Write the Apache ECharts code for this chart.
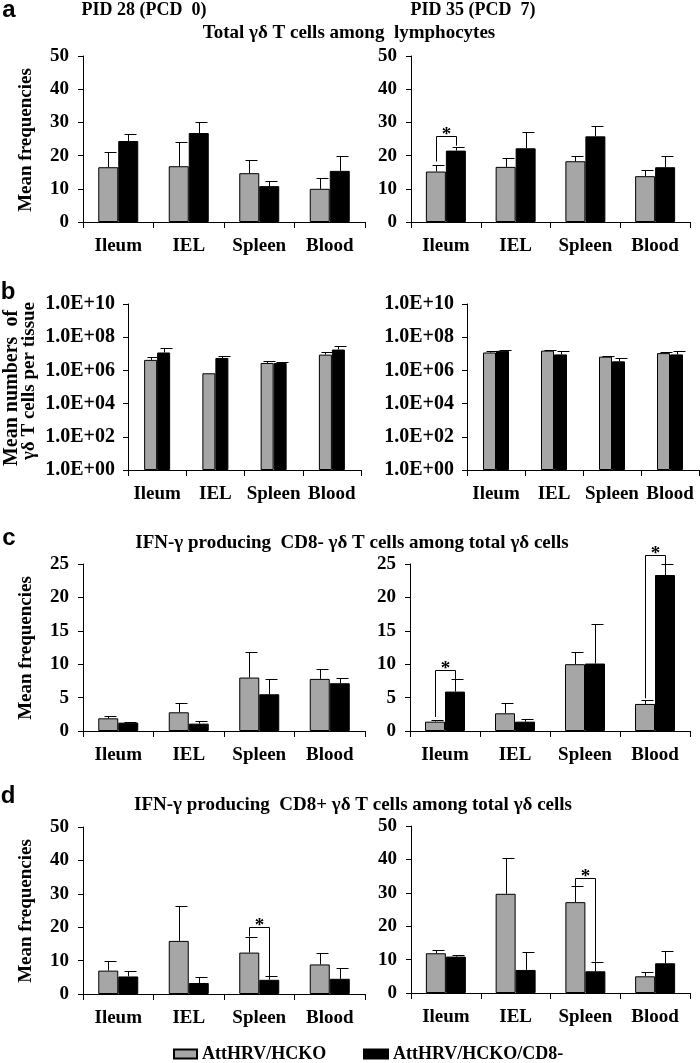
<!DOCTYPE html>
<html>
<head>
<meta charset="utf-8">
<script src="https://cdn.jsdelivr.net/npm/echarts@6/dist/echarts.min.js"></script>
<style>
html,body{margin:0;padding:0;background:#fff;}
#chart{width:700px;height:1063px;}
</style>
</head>
<body>
<div id="chart"></div>
<script>
// ---------- DATA ----------
const categories = ['Ileum', 'IEL', 'Spleen', 'Blood'];
const seriesNames = ['AttHRV/HCKO', 'AttHRV/HCKO/CD8-'];

// Panel a: Total γδ T cells among lymphocytes (mean, SD)
const aLeftGray = [16.5, 16.8, 14.7, 10.0];
const aLeftGraySd = [4.6, 7.2, 4.0, 3.2];
const aLeftBlack = [24.4, 26.8, 10.8, 15.4];
const aLeftBlackSd = [2.2, 3.2, 1.4, 4.6];
const aRightGray = [15.2, 16.6, 18.3, 13.8];
const aRightGraySd = [2.1, 2.7, 1.7, 2.0];
const aRightBlack = [21.5, 22.2, 25.8, 16.5];
const aRightBlackSd = [1.2, 5.0, 3.2, 3.5];

// Panel b: numbers of γδ T cells per tissue (log scale)
const bLeftGray = [4.3e6, 6.7e5, 2.8e6, 8.9e6];
const bLeftGraySd = [2.4e6, 0, 1.1e6, 3.1e6];
const bLeftBlack = [1.2e7, 5.6e6, 2.8e6, 1.8e7];
const bLeftBlackSd = [9e6, 2.1e6, 3e5, 1e7];
const bRightGray = [1.2e7, 1.55e7, 6.7e6, 1.1e7];
const bRightGraySd = [2e6, 2e6, 6e5, 1e6];
const bRightBlack = [1.5e7, 9.2e6, 3.5e6, 9.2e6];
const bRightBlackSd = [2e6, 5.8e6, 2.1e6, 5.8e6];

// Panel c: IFN-γ producing CD8- γδ T cells
const cLeftGray = [1.9, 2.8, 8.0, 7.8];
const cLeftGraySd = [0.4, 1.45, 3.9, 1.45];
const cLeftBlack = [1.25, 1.1, 5.5, 7.15];
const cLeftBlackSd = [0.15, 0.45, 2.25, 0.85];
const cRightGray = [1.4, 2.65, 10.0, 4.05];
const cRightGraySd = [0.2, 1.6, 1.9, 0.6];
const cRightBlack = [5.9, 1.4, 10.1, 23.35];
const cRightBlackSd = [1.9, 0.35, 5.9, 1.6];

// Panel d: IFN-γ producing CD8+ γδ T cells
const dLeftGray = [7.0, 15.9, 12.4, 8.85];
const dLeftGraySd = [2.9, 10.4, 4.6, 3.55];
const dLeftBlack = [5.25, 3.3, 4.25, 4.55];
const dLeftBlackSd = [1.5, 1.65, 1.0, 3.2];
const dRightGray = [11.9, 29.7, 27.2, 5.0];
const dRightGraySd = [1.0, 10.7, 4.7, 1.2];
const dRightBlack = [10.9, 6.9, 6.5, 8.9];
const dRightBlackSd = [0.6, 5.3, 2.9, 3.6];

// Significance brackets: [category index, gray end, black end, bracket top]
const aRightSig = [[0, 18.2, 23.0, 25.8]];
const cRightSig = [[0, 2.1, 7.8, 9.2], [3, 4.9, 25.0, 26.35]];
const dLeftSig = [[2, 17.2, 5.4, 20.2]];
const dRightSig = [[2, 31.9, 9.4, 34.5]];

// Axis ticks
const freq50Ticks = {min: 0, max: 50, interval: 10};
const freq25Ticks = {min: 0, max: 25, interval: 5};
const logTicks = {min: 1, max: 1e10, base: 100};

// ---------- LAYOUT ----------
const FONT = '"Liberation Serif", "Times New Roman", serif';
const panels = [
  {grid: {left: 83, top: 56, width: 282, height: 166}, ax: freq50Ticks, log: false, bw: 20,
   g: aLeftGray, gs: aLeftGraySd, k: aLeftBlack, ks: aLeftBlackSd, sig: []},
  {grid: {left: 411, top: 56, width: 279, height: 166}, ax: freq50Ticks, log: false, bw: 20,
   g: aRightGray, gs: aRightGraySd, k: aRightBlack, ks: aRightBlackSd, sig: aRightSig},
  {grid: {left: 128, top: 304, width: 233, height: 166}, ax: logTicks, log: true, bw: 13,
   g: bLeftGray, gs: bLeftGraySd, k: bLeftBlack, ks: bLeftBlackSd, sig: []},
  {grid: {left: 467, top: 304, width: 232, height: 166}, ax: logTicks, log: true, bw: 13,
   g: bRightGray, gs: bRightGraySd, k: bRightBlack, ks: bRightBlackSd, sig: []},
  {grid: {left: 83, top: 564, width: 282, height: 167}, ax: freq25Ticks, log: false, bw: 20,
   g: cLeftGray, gs: cLeftGraySd, k: cLeftBlack, ks: cLeftBlackSd, sig: []},
  {grid: {left: 410, top: 564, width: 280, height: 167}, ax: freq25Ticks, log: false, bw: 20,
   g: cRightGray, gs: cRightGraySd, k: cRightBlack, ks: cRightBlackSd, sig: cRightSig},
  {grid: {left: 83, top: 827, width: 282, height: 167}, ax: freq50Ticks, log: false, bw: 20,
   g: dLeftGray, gs: dLeftGraySd, k: dLeftBlack, ks: dLeftBlackSd, sig: dLeftSig},
  {grid: {left: 411, top: 826, width: 279, height: 167}, ax: freq50Ticks, log: false, bw: 20,
   g: dRightGray, gs: dRightGraySd, k: dRightBlack, ks: dRightBlackSd, sig: dRightSig}
];

const grids = [], xAxes = [], yAxes = [], series = [];
const lineStyle = {color: '#000', width: 1};

function errRender(bw) {
  return function (params, api) {
    const cat = api.value(0), s = api.value(1), v = api.value(2), top = api.value(3);
    if (!(top > v)) return null;
    const c = api.coord([cat, v]);
    const x = Math.round(c[0] + (s === 0 ? -bw / 2 : bw / 2)) + 0.5;
    const y2 = Math.round(api.coord([cat, top])[1]) + 0.5;
    return {
      type: 'group',
      children: [
        {type: 'line', shape: {x1: x, y1: c[1], x2: x, y2: y2}, style: {stroke: '#000', lineWidth: 1}},
        {type: 'line', shape: {x1: x - 4, y1: y2, x2: x + 8, y2: y2}, style: {stroke: '#000', lineWidth: 1}}
      ]
    };
  };
}
function sigRender(bw) {
  return function (params, api) {
    const cat = api.value(0);
    const cx = api.coord([cat, api.value(3)]);
    const xg = Math.round(cx[0] - bw / 2) + 0.5, xb = Math.round(cx[0] + bw / 2) + 0.5;
    const yt = Math.round(cx[1]) + 0.5;
    const yg = api.coord([cat, api.value(1)])[1];
    const yb = api.coord([cat, api.value(2)])[1];
    return {
      type: 'group',
      children: [
        {type: 'polyline', shape: {points: [[xg, yg], [xg, yt], [xb, yt], [xb, yb]]},
         style: {stroke: '#000', lineWidth: 1, fill: null}},
        {type: 'text', style: {text: '*', x: (xg + xb) / 2, y: yt - 1, align: 'center', verticalAlign: 'middle',
          textAlign: 'center', textVerticalAlign: 'middle', font: 'bold 19px ' + FONT, fill: '#000'}}
      ]
    };
  };
}

panels.forEach(function (p, i) {
  grids.push(p.grid);
  xAxes.push({
    type: 'category', gridIndex: i, data: categories, boundaryGap: true,
    axisLine: {show: true, lineStyle: lineStyle},
    axisTick: {show: true, length: 6, lineStyle: lineStyle},
    axisLabel: {color: '#000', fontFamily: FONT, fontWeight: 'bold', fontSize: 19, margin: 15, interval: 0}
  });
  const y = {
    gridIndex: i,
    axisLine: {show: true, lineStyle: lineStyle},
    axisTick: {show: true, length: 5, lineStyle: lineStyle},
    splitLine: {show: false},
    axisLabel: {color: '#000', fontFamily: FONT, fontWeight: 'bold', fontSize: p.log ? 20 : 19, margin: p.log ? 13 : 14}
  };
  if (p.log) {
    y.type = 'log'; y.logBase = p.ax.base; y.min = p.ax.min; y.max = p.ax.max;
    y.axisLabel.formatter = function (v) {
      const e = Math.round(Math.log10(v));
      return '1.0E+' + (e < 10 ? '0' : '') + e;
    };
  } else {
    y.type = 'value'; y.min = p.ax.min; y.max = p.ax.max; y.interval = p.ax.interval;
  }
  yAxes.push(y);

  series.push({
    name: seriesNames[0], type: 'bar', xAxisIndex: i, yAxisIndex: i, data: p.g,
    barWidth: p.bw, barGap: '0%',
    itemStyle: {color: '#a6a6a6', borderColor: '#000', borderWidth: 1}
  });
  series.push({
    name: seriesNames[1], type: 'bar', xAxisIndex: i, yAxisIndex: i, data: p.k,
    barWidth: p.bw, barGap: '0%',
    itemStyle: {color: '#000', borderColor: '#000', borderWidth: 1}
  });
  const errData = [];
  categories.forEach(function (c, j) {
    errData.push([j, 0, p.g[j], p.g[j] + p.gs[j]]);
    errData.push([j, 1, p.k[j], p.k[j] + p.ks[j]]);
  });
  series.push({
    type: 'custom', xAxisIndex: i, yAxisIndex: i, data: errData, renderItem: errRender(p.bw),
    encode: {x: 0, y: 2}, z: 5, clip: false, silent: true
  });
  if (p.sig.length) {
    series.push({
      type: 'custom', xAxisIndex: i, yAxisIndex: i, data: p.sig, renderItem: sigRender(p.bw),
      encode: {x: 0, y: 3}, z: 5, clip: false, silent: true
    });
  }
});

function txt(text, x, y, size, opts) {
  opts = opts || {};
  return {
    type: 'text', x: x, y: y, rotation: opts.rot || 0,
    style: {text: text, x: 0, y: 0, align: 'center', verticalAlign: 'middle',
      textAlign: 'center', textVerticalAlign: 'middle',
      font: 'bold ' + size + 'px ' + (opts.sans ? '"Liberation Sans", Arial, sans-serif' : FONT), fill: '#000'}
  };
}

const graphic = [
  txt('a', 9, 10, 24, {sans: true}),
  txt('b', 8, 292, 24, {sans: true}),
  txt('c', 9, 538, 24, {sans: true}),
  txt('d', 8, 796, 24, {sans: true}),
  txt('PID 28 (PCD  0)', 144, 10, 18),
  txt('PID 35 (PCD  7)', 473, 10, 18),
  txt('Total γδ T cells among  lymphocytes', 349, 33, 19),
  txt('IFN-γ producing  CD8- γδ T cells among total γδ cells', 352, 543, 19),
  txt('IFN-γ producing  CD8+ γδ T cells among total γδ cells', 353, 805, 19),
  txt('Mean frequencies', 26, 140, 19, {rot: Math.PI / 2}),
  txt('Mean numbers  of', 12, 388, 20, {rot: Math.PI / 2}),
  txt('γδ T cells per tissue', 29, 381, 19, {rot: Math.PI / 2}),
  txt('Mean frequencies', 26, 648, 19, {rot: Math.PI / 2}),
  txt('Mean frequencies', 26, 911, 19, {rot: Math.PI / 2})
];

const legendText = {color: '#000', fontFamily: FONT, fontWeight: 'bold', fontSize: 18};
const option = {
  animation: false,
  backgroundColor: '#fff',
  grid: grids,
  xAxis: xAxes,
  yAxis: yAxes,
  series: series,
  graphic: graphic,
  legend: [
    {data: [seriesNames[0]], left: 173, top: 1045, padding: 0, itemWidth: 23, itemHeight: 9, icon: 'rect',
     itemGap: 5, selectedMode: false, textStyle: legendText},
    {data: [seriesNames[1]], left: 363, top: 1045, padding: 0, itemWidth: 24, itemHeight: 9, icon: 'rect',
     itemGap: 8, selectedMode: false, textStyle: legendText}
  ]
};

const chart = echarts.init(document.getElementById('chart'), null, {renderer: 'canvas'});
chart.setOption(option);
</script>
</body>
</html>
